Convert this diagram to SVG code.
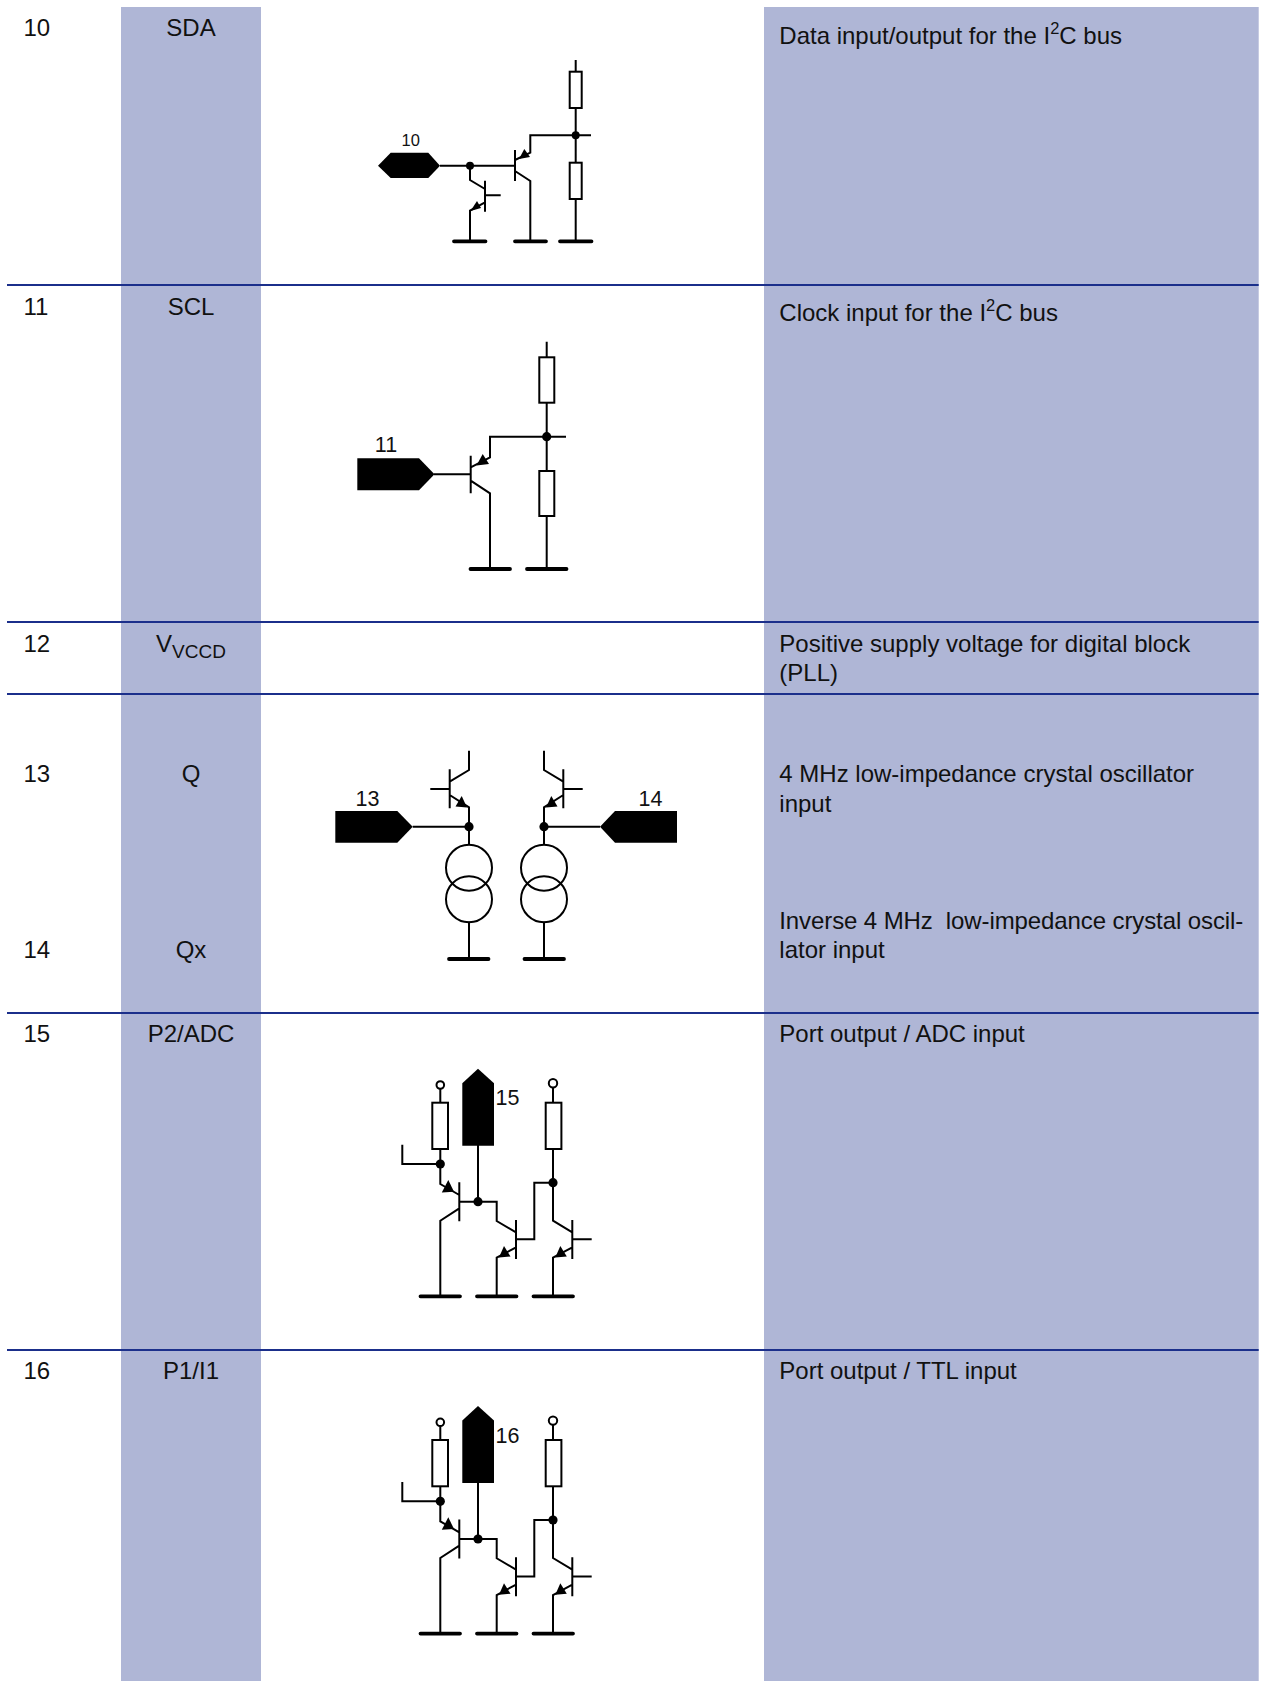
<svg xmlns="http://www.w3.org/2000/svg" width="1265" height="1681" viewBox="0 0 1265 1681">
<style>
text{font-family:"Liberation Sans",Arial,sans-serif;font-size:24px;fill:#111}
.m{text-anchor:middle}
.w{fill:none;stroke:#000;stroke-width:2;stroke-linejoin:miter}
.r{fill:#fff;stroke:#000;stroke-width:2}
.g{fill:none;stroke:#000;stroke-width:3.8;stroke-linecap:round}
.b{fill:#000}
.o{fill:none;stroke:#000;stroke-width:2}
.rule{stroke:#1b2f8b;stroke-width:1.8}
.pl{font-size:16.5px}
.pn{font-size:21.5px}
</style>
<defs>
<g id="port">
<path class="w" d="M440.3 1089V1102.7M440.3 1149V1184L459.3 1195M402.3 1144.7V1164H440.3M459.3 1182.3V1221.3M459.3 1201.7H496.7V1221L516 1232.3M516 1220V1259M516 1239.3H534.3V1182.7H553M459.3 1208.3L440.3 1220.7V1296.3M516 1247.3L496.7 1257.7V1296.3M553 1087.5V1102.7M553 1149V1220.7L572.3 1232.3M572.3 1220V1259M572.3 1239.3H591.7M572.3 1247.3L553 1257.7V1296.3M478 1145V1201.7"/>
<circle class="o" cx="440.3" cy="1085" r="3.8"/>
<circle class="o" cx="553" cy="1083.3" r="4.2"/>
<rect class="r" x="432.3" y="1102.7" width="15.7" height="46.3"/>
<rect class="r" x="545.7" y="1102.7" width="15.7" height="46.3"/>
<circle class="b" cx="440.3" cy="1164" r="4.6"/>
<circle class="b" cx="478" cy="1201.7" r="4.6"/>
<circle class="b" cx="553" cy="1182.7" r="4.6"/>
<polygon class="b" points="448.3,1180 441.8,1192.5 454,1191.7"/>
<polygon class="b" points="499,1257.5 504,1246 510.5,1256.5"/>
<polygon class="b" points="555.3,1257.5 560.3,1246 566.8,1256.5"/>
<path class="g" d="M420.5 1296.3H460M477 1296.3H516.5M533.5 1296.3H573"/>
<polygon class="b" points="478,1068.7 494,1083.3 494,1145.7 462.3,1145.7 462.3,1083.3"/>
</g>
</defs>
<g id="columns">
<rect x="121" y="7" width="140" height="1674" fill="#afb6d6"/>
<rect x="764" y="7" width="494.7" height="1674" fill="#afb6d6"/>
</g>
<g id="rules">
<path class="rule" d="M7 285H1258.7M7 622H1258.7M7 694H1258.7M7 1013H1258.7M7 1350H1258.7"/>
</g>
<g id="row-10">
<text x="23.4" y="36">10</text>
<text class="m" x="191" y="36">SDA</text>
<text x="779.3" y="43.5">Data input/output for the I<tspan font-size="16.5" dy="-10">2</tspan><tspan dy="10">C bus</tspan></text>
<polygon class="b" points="378,165.7 390.7,152.7 428.3,152.7 440,165.7 428.3,178 390.7,178"/>
<text class="m pl" x="410.8" y="146.3">10</text>
</g>
<g id="row-11">
<text x="23.4" y="315">11</text>
<text class="m" x="191" y="315">SCL</text>
<text x="779.3" y="321">Clock input for the I<tspan font-size="16.5" dy="-10">2</tspan><tspan dy="10">C bus</tspan></text>
<polygon class="b" points="357.3,458.3 419,458.3 434.5,474.3 419,490.3 357.3,490.3"/>
<text class="m pn" x="386" y="451.7">11</text>
</g>
<g id="row-12">
<text x="23.4" y="651.7">12</text>
<text x="156" y="651.7">V<tspan font-size="19" dy="6">VCCD</tspan></text>
<text x="779.3" y="651.7">Positive supply voltage for digital block</text>
<text x="779.3" y="681">(PLL)</text>
</g>
<g id="row-13">
<text x="23.4" y="782">13</text>
<text class="m" x="191" y="782">Q</text>
<text x="779.3" y="782">4 MHz low-impedance crystal oscillator</text>
<text x="779.3" y="811.5">input</text>
<polygon class="b" points="335.3,811 397.3,811 412.7,826.7 397.3,842.7 335.3,842.7"/>
<text class="m pn" x="367.5" y="805.7">13</text>
</g>
<g id="row-14">
<text x="23.4" y="958">14</text>
<text class="m" x="191" y="958">Qx</text>
<text x="779.3" y="929" xml:space="preserve" style="letter-spacing:-0.1px">Inverse 4 MHz  low-impedance crystal oscil-</text>
<text x="779.3" y="958">lator input</text>
<polygon class="b" points="600,826.7 615,811 677,811 677,842.7 615,842.7"/>
<text class="m pn" x="650.5" y="805.7">14</text>
</g>
<g id="row-15">
<text x="23.4" y="1041.5">15</text>
<text class="m" x="191" y="1041.5">P2/ADC</text>
<text x="779.3" y="1041.5">Port output / ADC input</text>
<text class="pn" x="495.5" y="1105">15</text>
</g>
<g id="row-16">
<text x="23.4" y="1378.5">16</text>
<text class="m" x="191" y="1378.5">P1/I1</text>
<text x="779.3" y="1378.5">Port output / TTL input</text>
<text class="pn" x="495.5" y="1443">16</text>
</g>
<g id="connectors">
<g id="circuit-10">
<path class="w" d="M575.7 60V71.7M575.7 108V162.7M575.7 199V241.3M591 135.3H530.3V152.7L515 160M515 150V181M440 165.7H515M515 171L530.3 181V241.3M470 165.7V180L485 189M485 180.7V211.7M485 195.3H500.7M485 202.3L470 210.7V241.3"/>
<rect class="r" x="569.7" y="71.7" width="12" height="36.3"/>
<rect class="r" x="569.7" y="162.7" width="12" height="36.3"/>
<circle class="b" cx="575.7" cy="135.3" r="4"/>
<circle class="b" cx="470" cy="165.7" r="4"/>
<polygon class="b" points="470.5,211 477,201 481,208"/>
<polygon class="b" points="519,159 524.3,149 530,157"/>
<path class="g" d="M454 241.3H485.5M515 241.3H546M560 241.3H591.5"/>
</g>
<g id="circuit-11">
<path class="w" d="M546.7 341.7V357.3M546.7 402.7V471M546.7 516V569M566 436.7H490V457.3L470.7 467.3M470.7 455.7V493.3M434 474.3H470.7M470.7 480.7L490 493.3V569"/>
<rect class="r" x="539.3" y="357.3" width="15" height="45.4"/>
<rect class="r" x="539.3" y="471" width="15" height="45"/>
<circle class="b" cx="546.7" cy="436.7" r="4.6"/>
<polygon class="b" points="476.5,465.5 482.7,454 489,464"/>
<path class="g" d="M470.5 569H510M527 569H566.5"/>
</g>
<g id="circuit-13">
<path class="w" d="M412.7 826.7H469M469 845V807.3L449.7 795M449.7 769.3V808.3M430.3 789H449.7M449.7 781.7L469 770V750.7M469 921.7V959"/>
<circle class="o" cx="469" cy="867.7" r="23"/>
<circle class="o" cx="469" cy="899.3" r="23"/>
<circle class="b" cx="469" cy="826.7" r="4.6"/>
<polygon class="b" points="467,807.5 461.7,796 455.5,806.5"/>
<path class="g" d="M449 959H488.5"/>
</g>
<g id="circuit-14">
<path class="w" d="M600 826.7H544M544 845V807.3L563.3 795M563.3 769.3V808.3M582.7 789H563.3M563.3 781.7L544 770V750.7M544 921.7V959"/>
<circle class="o" cx="544" cy="867.7" r="23"/>
<circle class="o" cx="544" cy="899.3" r="23"/>
<circle class="b" cx="544" cy="826.7" r="4.6"/>
<polygon class="b" points="546,807.5 551.3,796 557.5,806.5"/>
<path class="g" d="M524.5 959H564"/>
</g>
<use id="circuit-15" href="#port"/>
<use id="circuit-16" href="#port" y="337.3"/>
</g>
</svg>
